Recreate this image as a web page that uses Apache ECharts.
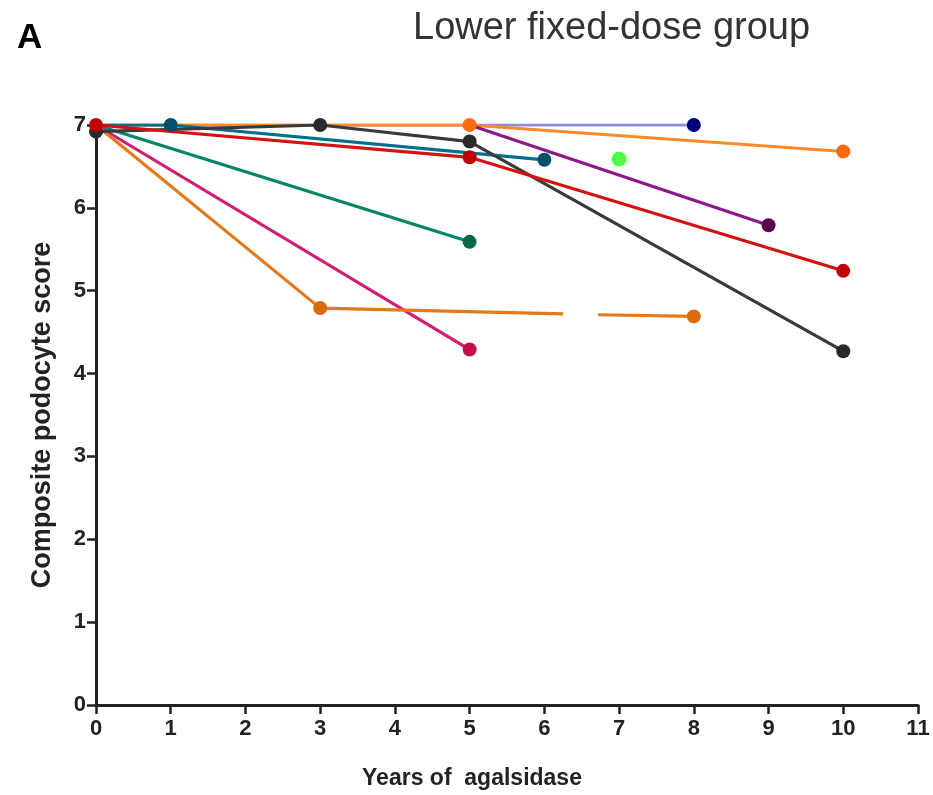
<!DOCTYPE html>
<html>
<head>
<meta charset="utf-8">
<script src="https://cdn.jsdelivr.net/npm/echarts@6/dist/echarts.min.js"></script>
<style>
  html, body { margin: 0; padding: 0; background: #fff; }
  #chart { width: 933px; height: 795px; }
</style>
</head>
<body>
<div id="chart"></div>
<script>
// years / scores per patient, '-' marks the break in the line
var navy = [[0, 7], [8, 7]];
var lightOrange = [[0, 7], [5, 7], [10, 6.68]];
var teal = [[0, 7], [1, 7], [6, 6.58]];
var black = [[0, 6.92], [3, 7], [5, 6.8], [10, 4.27]];
var red = [[0, 7], [5, 6.61], [10, 5.24]];
var green = [[0, 7], [5, 5.59]];
var magenta = [[0, 7], [5, 4.29]];
var darkOrange = [[0, 7], [3, 4.79], [6.25, 4.72], '-', [6.72, 4.71], [8, 4.69]];
var purple = [[5, 7], [9, 5.79]];
var brightGreen = [[7, 6.59]];

var xTicks = [0, 1, 2, 3, 4, 5, 6, 7, 8, 9, 10, 11];
var yTicks = [0, 1, 2, 3, 4, 5, 6, 7];

// which points get a dot
function pts(data, dots) {
    return data.map(function(d, i) {
        if (d === '-') return '-';
        return { value: d, symbol: dots.indexOf(i) >= 0 ? 'circle' : 'none' };
    });
}

function line(data, dots, lineColor, dotColor) {
    return {
        type: 'line',
        data: pts(data, dots),
        symbolSize: 14,
        connectNulls: false,
        lineStyle: { color: lineColor, width: 3.2 },
        itemStyle: { color: dotColor },
        emphasis: { disabled: true },
        animation: false
    };
}

var option = {
    backgroundColor: '#fff',
    title: [{
        text: 'Lower fixed-dose group',
        left: 408,
        top: 5,
        textStyle: { fontFamily: 'Liberation Sans', fontSize: 38, fontWeight: 'normal', color: '#333' }
    }, {
        text: 'A',
        left: 12,
        top: 16,
        textStyle: { fontFamily: 'Liberation Sans', fontSize: 35, fontWeight: 'bold', color: '#000' }
    }],
    grid: {
        left: 96,
        right: 15,
        top: 125,
        bottom: 88
    },
    xAxis: {
        type: 'value',
        min: 0,
        max: 11,
        interval: 1,
        name: 'Years of  agalsidase',
        nameLocation: 'middle',
        nameGap: 62,
        nameTextStyle: {
            fontFamily: 'Liberation Sans', fontSize: 23, fontWeight: 'bold', color: '#222',
            padding: [0, 70, 0, 0]
        },
        axisLine: { lineStyle: { color: '#222', width: 3 } },
        axisTick: { length: 9, lineStyle: { color: '#222', width: 2.5 } },
        axisLabel: {
            fontFamily: 'Liberation Sans', fontSize: 22, fontWeight: 'bold', color: '#222', margin: 13,
            formatter: function(v) { return xTicks.indexOf(v) >= 0 ? String(v) : ''; }
        },
        splitLine: { show: false }
    },
    yAxis: {
        type: 'value',
        min: 0,
        max: 7,
        interval: 1,
        name: 'Composite podocyte score',
        nameLocation: 'middle',
        nameGap: 40,
        nameTextStyle: { fontFamily: 'Liberation Sans', fontSize: 27, fontWeight: 'bold', color: '#222' },
        axisLine: { show: true, lineStyle: { color: '#222', width: 3 } },
        axisTick: { show: true, length: 9, lineStyle: { color: '#222', width: 2.5 } },
        axisLabel: {
            fontFamily: 'Liberation Sans', fontSize: 22, fontWeight: 'bold', color: '#222', margin: 10,
            formatter: function(v) { return yTicks.indexOf(v) >= 0 ? String(v) : ''; }
        },
        splitLine: { show: false }
    },
    series: [
        line(navy, [1], '#8c8cdc', '#00007c'),
        line(lightOrange, [1, 2], '#ff8a2a', '#ff6a10'),
        line(purple, [1], '#8a1a8a', '#5e0050'),
        line(green, [1], '#00876a', '#006a4a'),
        line(magenta, [1], '#d01e72', '#c0104e'),
        line(darkOrange, [1, 5], '#e27a1c', '#dc6a0a'),
        line(teal, [1, 2], '#00708c', '#00506c'),
        line(black, [0, 1, 2, 3], '#3a3a3a', '#2a2a2a'),
        line(red, [0, 1, 2], '#d41212', '#c00008'),
        {
            type: 'scatter',
            data: brightGreen,
            symbolSize: 15,
            itemStyle: { color: '#22ff22' },
            animation: false
        }
    ]
};

echarts.init(document.getElementById('chart')).setOption(option);
</script>
</body>
</html>
